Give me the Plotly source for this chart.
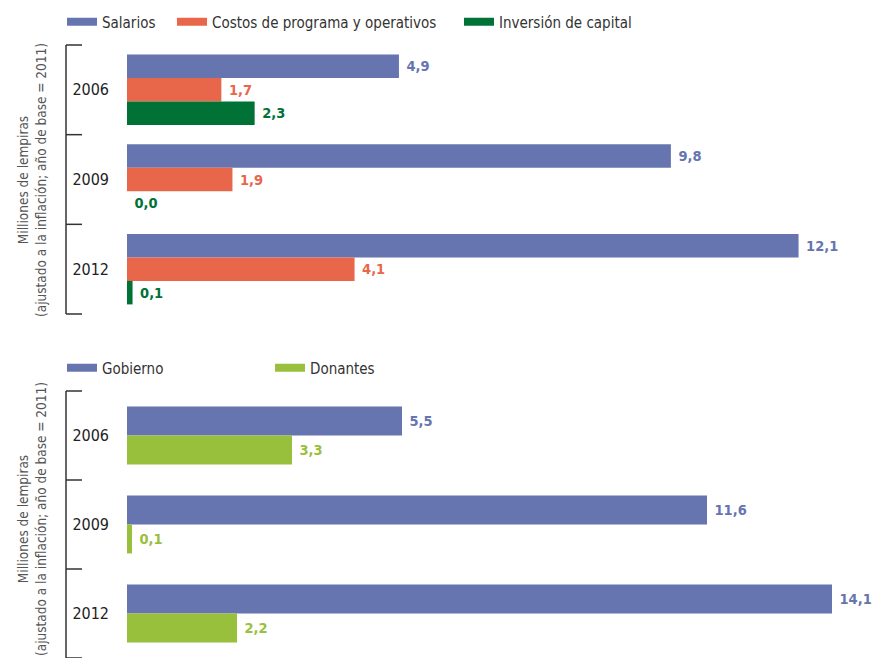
import plotly.graph_objects as go

years = ["2006", "2009", "2012"]

# Top panel: spending by type (millions of lempiras)
salarios = [4.9, 9.8, 12.1]
costos = [1.7, 1.9, 4.1]
inversion = [2.3, 0.0, 0.1]

# Bottom panel: funding source
gobierno = [5.5, 11.6, 14.1]
donantes = [3.3, 0.1, 2.2]

ytitle = "Milliones de lempiras<br>(ajustado a la inflación; año de base = 2011)"

C_BLUE = "#6674B0"
C_ORANGE = "#E8674A"
C_DGREEN = "#007236"
C_LGREEN = "#98C03C"

FONT = "DejaVu Sans Condensed, Roboto, sans-serif"
W, H = 873, 658
ML, MR = 127, 3
PW = W - ML - MR


def px2paper(px):
    return (px - ML) / PW


fig = go.Figure()


def add_bar(vals, color, name, xa, ya, width, offset):
    fig.add_trace(go.Bar(
        x=vals, y=years, orientation="h", name=name,
        marker=dict(color=color, line=dict(width=0)),
        width=width, offset=offset,
        text=vals, texttemplate=" %{x:.1f}", textposition="outside",
        textfont=dict(color=color, size=14.5, family=FONT, weight="bold"),
        constraintext="none", cliponaxis=False,
        xaxis=xa, yaxis=ya, showlegend=False,
        hovertemplate=name + ": %{x:.1f}<extra></extra>",
    ))


wt = 0.262
add_bar(salarios, C_BLUE, "Salarios", "x", "y", wt, -1.5 * wt)
add_bar(costos, C_ORANGE, "Costos de programa y operativos", "x", "y", wt, -0.5 * wt)
add_bar(inversion, C_DGREEN, "Inversión de capital", "x", "y", wt, 0.5 * wt)

wb = 0.325
add_bar(gobierno, C_BLUE, "Gobierno", "x2", "y2", wb, -wb)
add_bar(donantes, C_LGREEN, "Donantes", "x2", "y2", wb, 0)

# legend proxies (one legend each, to reproduce the spacing)
legend_items = [
    ("Salarios", C_BLUE, "legend", 62, 22),
    ("Costos de programa y operativos", C_ORANGE, "legend2", 172, 22),
    ("Inversión de capital", C_DGREEN, "legend3", 459, 22),
    ("Gobierno", C_BLUE, "legend4", 62, 368),
    ("Donantes", C_LGREEN, "legend5", 270, 368),
]
legend_layouts = {}
for name, color, lg, px, py in legend_items:
    fig.add_trace(go.Scatter(
        x=[None], y=[None], mode="lines", name=name,
        line=dict(color=color, width=8),
        legend=lg, xaxis="x", yaxis="y", hoverinfo="skip",
    ))
    legend_layouts[lg] = dict(
        x=px2paper(px), y=1 - py / H, xanchor="left", yanchor="middle",
        orientation="h", bgcolor="rgba(0,0,0,0)", borderwidth=0,
        font=dict(family=FONT, size=15, color="#333333"),
        itemwidth=30, tracegroupgap=0,
    )

top_dom = [1 - 314 / H, 1 - 45 / H]
bot_dom = [0, 1 - 391 / H]

yax_common = dict(
    type="category", categoryorder="array", categoryarray=years,
    range=[2.5, -0.5], showgrid=False, zeroline=False, showline=False,
    ticks="", ticklabelstandoff=17,
    tickfont=dict(family=FONT, size=16, color="#222222"),
    fixedrange=True,
)
xax_common = dict(visible=False, showgrid=False, zeroline=False, fixedrange=True)

fig.update_layout(
    width=W, height=H,
    margin=dict(l=ML, r=MR, t=0, b=0),
    paper_bgcolor="white", plot_bgcolor="white",
    separators=",.",
    font=dict(family=FONT),
    xaxis=dict(**xax_common, domain=[0, 1], anchor="y", range=[0, PW / 55.5]),
    yaxis=dict(**yax_common, domain=top_dom, anchor="x"),
    xaxis2=dict(**xax_common, domain=[0, 1], anchor="y2", range=[0, PW / 50.0]),
    yaxis2=dict(**yax_common, domain=bot_dom, anchor="x2"),
    **legend_layouts,
)

# rotated axis titles (placed as annotations so the lower one fits the page)
for cy in [180, 519]:
    fig.add_annotation(
        text=ytitle, textangle=-90, showarrow=False,
        xref="paper", yref="paper", x=px2paper(32), y=1 - cy / H,
        xanchor="center", yanchor="middle",
        font=dict(family=FONT, size=13.5, color="#555555"),
    )

# bracket decorations beside the category labels
bx0, bx1 = px2paper(66), px2paper(82)
for yd in ["y domain", "y2 domain"]:
    fig.add_shape(type="line", xref="paper", yref=yd, x0=bx0, x1=bx0, y0=0, y1=1,
                  line=dict(color="#333333", width=1.5))
    for f in [0, 1 / 3, 2 / 3, 1]:
        fig.add_shape(type="line", xref="paper", yref=yd, x0=bx0, x1=bx1, y0=f, y1=f,
                      line=dict(color="#333333", width=1.5))

fig.write_html("out.html")
